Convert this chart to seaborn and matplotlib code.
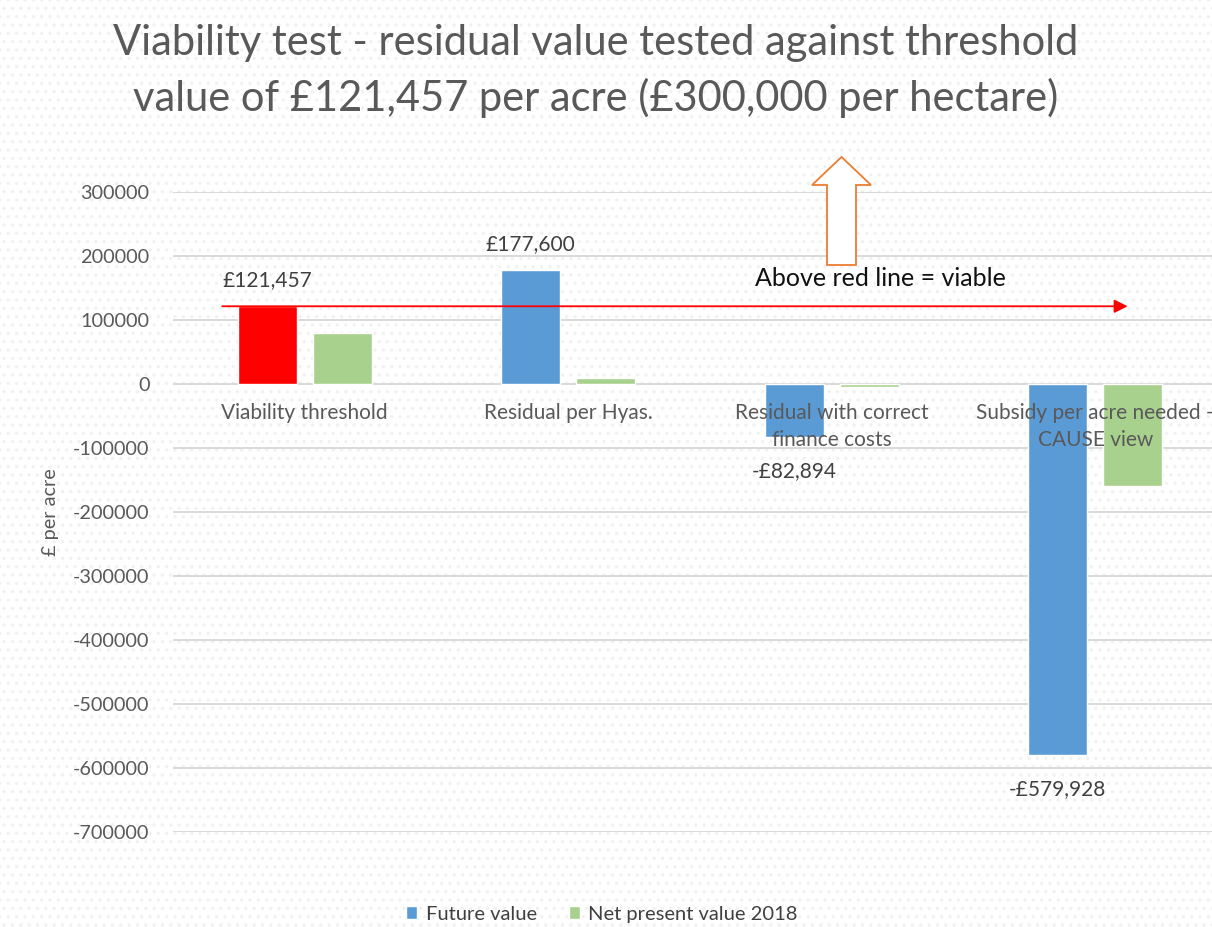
import matplotlib
matplotlib.use("Agg")
import matplotlib.pyplot as plt
from matplotlib.patches import Rectangle, FancyArrow
import seaborn as sns
import pandas as pd

# ---- data ----
categories = ["Viability threshold", "Residual per Hyas.",
              "Residual with correct\nfinance costs",
              "Subsidy per acre needed -\nCAUSE view"]
series_names = ["Future value", "Net present value 2018"]
future_value = [121457, 177600, -82894, -579928]
npv_2018 = [80000, 10000, -5000, -160000]
threshold = 121457
y_ticks = list(range(-700000, 300001, 100000))
title_text = ("Viability test - residual value tested against threshold\n"
              "value of £121,457 per acre (£300,000 per hectare)")
note_text = "Above red line = viable"
y_label = "£ per acre"

BLUE = "#5B9BD5"
GREEN = "#A9D18E"
RED = "#FF0000"
ORANGE = "#ED7D31"
GREY = "#595959"

df = pd.DataFrame({
    "category": categories * 2,
    "series": [series_names[0]] * len(categories) + [series_names[1]] * len(categories),
    "value": future_value + npv_2018,
})

sns.set_theme(style="white")
plt.rcParams["font.family"] = ["Lato", "DejaVu Sans"]
plt.rcParams["hatch.linewidth"] = 1.2

W, H = 1212, 927
fig = plt.figure(figsize=(W / 100, H / 100), dpi=100)
fig.patch.set_facecolor("white")
bg = Rectangle((0, 0), 1, 1, transform=fig.transFigure, facecolor="white",
               edgecolor="#f1f1f1", hatch="..", lw=0, zorder=-10)
fig.add_artist(bg)

ax = fig.add_axes([173 / W, 1 - 832 / H, (1227 - 173) / W, (832 - 192) / H])
ax.set_facecolor("none")

sns.barplot(data=df, x="category", y="value", hue="series",
            palette=[BLUE, GREEN], width=0.569, gap=0.213,
            saturation=1, ax=ax, zorder=3)

# first future-value bar is the red threshold bar
ax.containers[0][0].set_facecolor(RED)

ax.set_ylim(min(y_ticks), max(y_ticks))
ax.set_xlim(-0.5, len(categories) - 0.5)
ax.set_yticks(y_ticks)
ax.set_yticklabels([str(v) for v in y_ticks])
ax.grid(axis="y", color="#d9d9d9", lw=1.4, zorder=0)
ax.grid(axis="x", visible=False)
ax.set_axisbelow(True)
ax.xaxis.set_zorder(10)  # category labels drawn over the bars
for s in ax.spines.values():
    s.set_visible(False)
ax.spines["bottom"].set_position(("data", 0))
ax.tick_params(axis="x", length=0, pad=13.5, labelsize=15, labelcolor=GREY)
for lab in ax.get_xticklabels():
    lab.set_linespacing(1.45)
ax.tick_params(axis="y", length=0, pad=17, labelsize=14.3, labelcolor=GREY)
ax.set_xlabel("")
ax.set_ylabel(y_label, fontsize=14.3, color=GREY, labelpad=10)

# data labels on future value bars
pos_labels = [(f"£{v:,}" if v >= 0 else "") for v in future_value]
neg_labels = [(f"-£{abs(v):,}" if v < 0 else "") for v in future_value]
ax.bar_label(ax.containers[0], labels=pos_labels, padding=12, fontsize=15,
             color="#404040")
ax.bar_label(ax.containers[0], labels=neg_labels, padding=17, fontsize=15,
             color="#404040")

# red threshold arrow
ax.annotate("", xy=(3.123, threshold), xytext=(-0.313, threshold),
            arrowprops=dict(arrowstyle="-|>", color=RED, lw=1.3,
                            mutation_scale=20, shrinkA=0, shrinkB=0),
            zorder=5)

ax.text(755 / W, 1 - 279 / H, note_text, transform=fig.transFigure,
        fontsize=18, color="#111111", va="center", ha="left")

# orange hollow block arrow
arr = FancyArrow(841.5 / 100, (H - 265) / 100, 0, 1.08, width=0.29,
                 head_width=0.59, head_length=0.28, length_includes_head=True,
                 transform=fig.dpi_scale_trans, facecolor="white",
                 edgecolor=ORANGE, lw=1.3, zorder=6)
fig.add_artist(arr)

fig.text(596 / W, 1 - 24 / H, title_text, ha="center", va="top",
         fontsize=30, color=GREY, linespacing=1.47)

sns.move_legend(ax, "lower center", bbox_to_anchor=(0.407, -0.17),
                ncol=2, frameon=False, title=None, fontsize=14.5,
                handlelength=0.55, handleheight=0.55, handletextpad=0.4,
                columnspacing=1.6, labelcolor="#404040")

fig.savefig("out.png", dpi=100)
